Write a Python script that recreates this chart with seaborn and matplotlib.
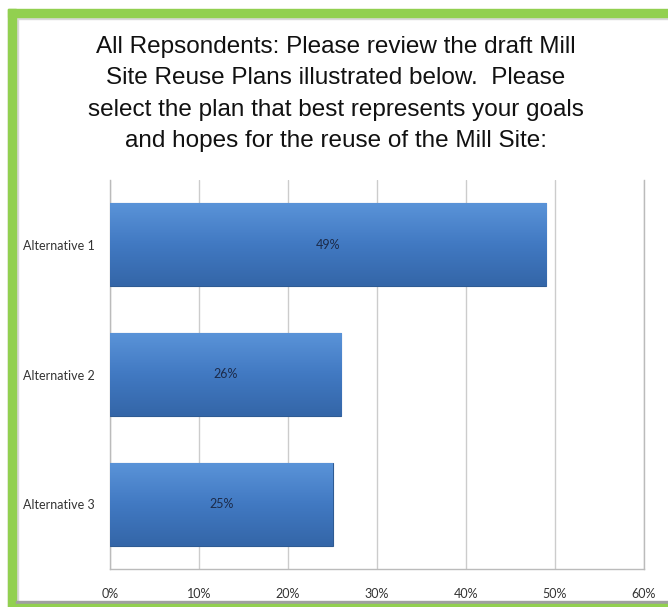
import numpy as np
import pandas as pd
import seaborn as sns
from matplotlib import pyplot as plt
from matplotlib.patches import Rectangle

# datos
alternativas = ["Alternative 1", "Alternative 2", "Alternative 3"]
porcentajes = [49, 26, 25]
ticks_x = [0, 10, 20, 30, 40, 50, 60]
titulo = ("All Repsondents: Please review the draft Mill\n"
          "Site Reuse Plans illustrated below.  Please\n"
          "select the plan that best represents your goals\n"
          "and hopes for the reuse of the Mill Site:")

df = pd.DataFrame({"alt": alternativas, "pct": porcentajes})

sns.set_style("white")
W, H = 668, 607
fig = plt.figure(figsize=(W / 100, H / 100), dpi=100)
ax = fig.add_axes([110 / W, (H - 569) / H, (644 - 110) / W, (569 - 180) / H])

sns.barplot(data=df, x="pct", y="alt", orient="h", color="#4178C0",
            width=0.64, edgecolor="#2E5B93", linewidth=0.8, ax=ax, zorder=3)

# degradado dentro de cada barra
grad = np.linspace(0, 1, 100).reshape(-1, 1)
cmap = sns.blend_palette(["#5A93D8", "#4179C2", "#3466A8"], as_cmap=True)
fuente = ["Lato", "DejaVu Sans"]
for p in ax.patches:
    x0, y0 = p.get_x(), p.get_y()
    im = ax.imshow(grad, cmap=cmap, aspect="auto", zorder=3.5,
                   extent=[x0, x0 + p.get_width(), y0 + p.get_height(), y0])
    im.set_clip_path(p)
    ax.text(x0 + p.get_width() / 2, y0 + p.get_height() / 2,
            f"{int(round(p.get_width()))}%", ha="center", va="center",
            fontsize=9, color="#1C2B4A", family=fuente, zorder=5)

ax.set_xlim(0, 60)
ax.set_ylim(2.5, -0.5)
ax.set_xticks(ticks_x)
ax.set_xticklabels([f"{t}%" for t in ticks_x], family=fuente,
                   fontsize=9, color="#333333")
ax.set_yticks(range(len(alternativas)))
ax.set_yticklabels(alternativas, family=fuente, fontsize=9, color="#333333")
ax.tick_params(axis="x", length=0, pad=14)
ax.tick_params(axis="y", length=0, pad=11)
ax.set_xlabel("")
ax.set_ylabel("")
ax.grid(axis="x", color="#CCCCCC", linewidth=1, zorder=0)
ax.set_axisbelow(True)
for s in ["left", "right", "bottom"]:
    ax.spines[s].set_color("#BBBBBB")
    ax.spines[s].set_linewidth(1)
ax.spines["top"].set_visible(False)

fig.text(336 / W, 1 - 94 / H, titulo, ha="center", va="center",
         fontsize=17.5, linespacing=1.54, color="#111111",
         family=["Liberation Sans", "DejaVu Sans"])

# marco verde
def rect(x0, y0, x1, y1, color):
    fig.patches.append(Rectangle((x0 / W, 1 - y1 / H), (x1 - x0) / W, (y1 - y0) / H,
                                 transform=fig.transFigure, color=color, zorder=10))

rect(8, 17, 10, H, "#C8C8C8")
rect(16, 17, 18, 601, "#D8D8D8")
rect(16, 17, W, 19, "#D8D8D8")
rect(8, 9, W, 17, "#92D050")
rect(8, 9, 16, H, "#92D050")
rect(16, 601, W, 604, "#A0A0A0")
rect(16, 604, W, H, "#92D050")

fig.savefig("out.png", dpi=100)
